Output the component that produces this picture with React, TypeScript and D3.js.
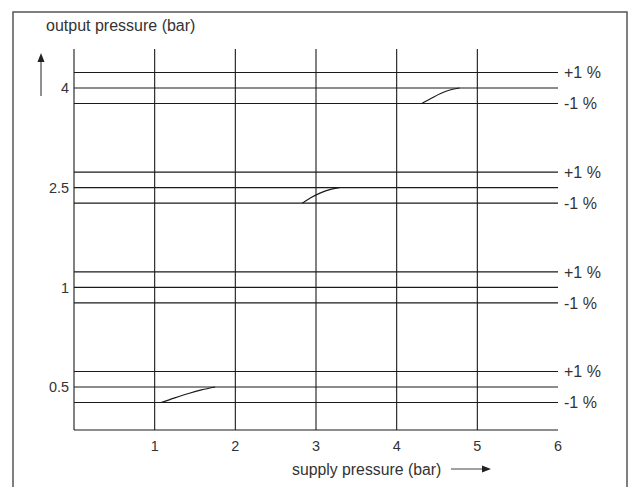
import React from 'react';
import * as d3 from 'd3';

// output pressure groups (bar) and the tolerance bands around each
const outputLevels = ['0.5', '1', '2.5', '4'];
const bandLines = [1, 0, -1];
const bandLabels = [
  { dev: 1, text: '+1 %' },
  { dev: -1, text: '-1 %' },
];
const supplyTicks = [1, 2, 3, 4, 5, 6];
const gridX = [1, 2, 3, 4, 5];

// regulation curves: [supply pressure, deviation %]
const curve05: [number, number][] = [[1.08, -1], [1.25, -0.7], [1.42, -0.42], [1.58, -0.19], [1.75, 0]];
const curve25: [number, number][] = [[2.83, -1], [2.93, -0.66], [3.05, -0.35], [3.17, -0.13], [3.29, 0]];
const curve4: [number, number][] = [[4.31, -1], [4.43, -0.66], [4.545, -0.35], [4.66, -0.13], [4.78, 0]];
const curves = [
  { level: '0.5', pts: curve05 },
  { level: '2.5', pts: curve25 },
  { level: '4', pts: curve4 },
];

const W = 640;
const H = 487;
const font = '"Liberation Sans", Arial, Helvetica, sans-serif';
const ink = '#1a1a1a';
const textCol = '#333';

export default function App() {
  const plotTop = 49;
  const plotBottom = 430;
  const x = d3.scaleLinear().domain([0, 6]).range([74, 558]);
  const yLevel = d3.scalePoint<string>().domain(outputLevels).range([387, 88]);
  const yDev = d3.scaleLinear().domain([-1, 1]).range([15.5, -15.5]);
  const yOf = (level: string, dev: number) => (yLevel(level) as number) + yDev(dev);

  const line = (level: string) =>
    d3
      .line<[number, number]>()
      .x((d) => x(d[0]))
      .y((d) => yOf(level, d[1]))
      .curve(d3.curveMonotoneX);

  return (
    <svg width={W} height={H} style={{ position: 'absolute', left: 0, top: 0 }} fontFamily={font}>
      <rect x={0} y={0} width={W} height={H} fill="#fff" />
      {/* frame (open at the bottom) */}
      <path d={`M13,${H + 2}V12H627V${H + 2}`} fill="none" stroke="#555" strokeWidth={1.5} />

      <text x={46} y={31} fontSize={16} fill={textCol}>output pressure (bar)</text>

      {/* y arrow */}
      <line x1={41} x2={41} y1={96} y2={60} stroke="#555" strokeWidth={1.3} />
      <path d="M37.5,62L41,53L44.5,62Z" fill="#222" />

      {/* vertical grid */}
      {gridX.map((v) => (
        <line key={v} x1={x(v)} x2={x(v)} y1={plotTop} y2={plotBottom} stroke={ink} strokeWidth={1.1} />
      ))}
      {/* axes */}
      <line x1={x(0)} x2={x(0)} y1={plotTop} y2={plotBottom} stroke={ink} strokeWidth={1.1} />
      <line x1={x(0)} x2={x(6)} y1={plotBottom} y2={plotBottom} stroke={ink} strokeWidth={1.1} />

      {/* band lines */}
      {outputLevels.map((lv) =>
        bandLines.map((dev) => (
          <line key={lv + dev} x1={x(0)} x2={x(6)} y1={yOf(lv, dev)} y2={yOf(lv, dev)} stroke={ink} strokeWidth={1.1} />
        ))
      )}
      {outputLevels.map((lv) =>
        bandLabels.map((b) => (
          <text key={lv + b.text} x={x(6) + 6} y={yOf(lv, b.dev)} dy="0.36em" fontSize={16} fill={textCol}>
            {b.text}
          </text>
        ))
      )}

      {/* y tick labels */}
      {outputLevels.map((lv) => (
        <text key={lv} x={69} y={yLevel(lv)} dy="0.36em" textAnchor="end" fontSize={14.4} fill={textCol}>
          {lv}
        </text>
      ))}

      {/* x tick labels */}
      {supplyTicks.map((v) => (
        <text key={v} x={x(v)} y={451} textAnchor="middle" fontSize={14.4} fill={textCol}>
          {v}
        </text>
      ))}

      <text x={292} y={475} fontSize={15.8} fill={textCol}>supply pressure (bar)</text>
      <line x1={451} x2={484} y1={469} y2={469} stroke="#444" strokeWidth={1.2} />
      <path d="M482,465.5L491,469L482,472.5Z" fill="#222" />

      {/* curves */}
      {curves.map((c) => (
        <path key={c.level} d={line(c.level)(c.pts) as string} fill="none" stroke={ink} strokeWidth={1.2} />
      ))}
    </svg>
  );
}
